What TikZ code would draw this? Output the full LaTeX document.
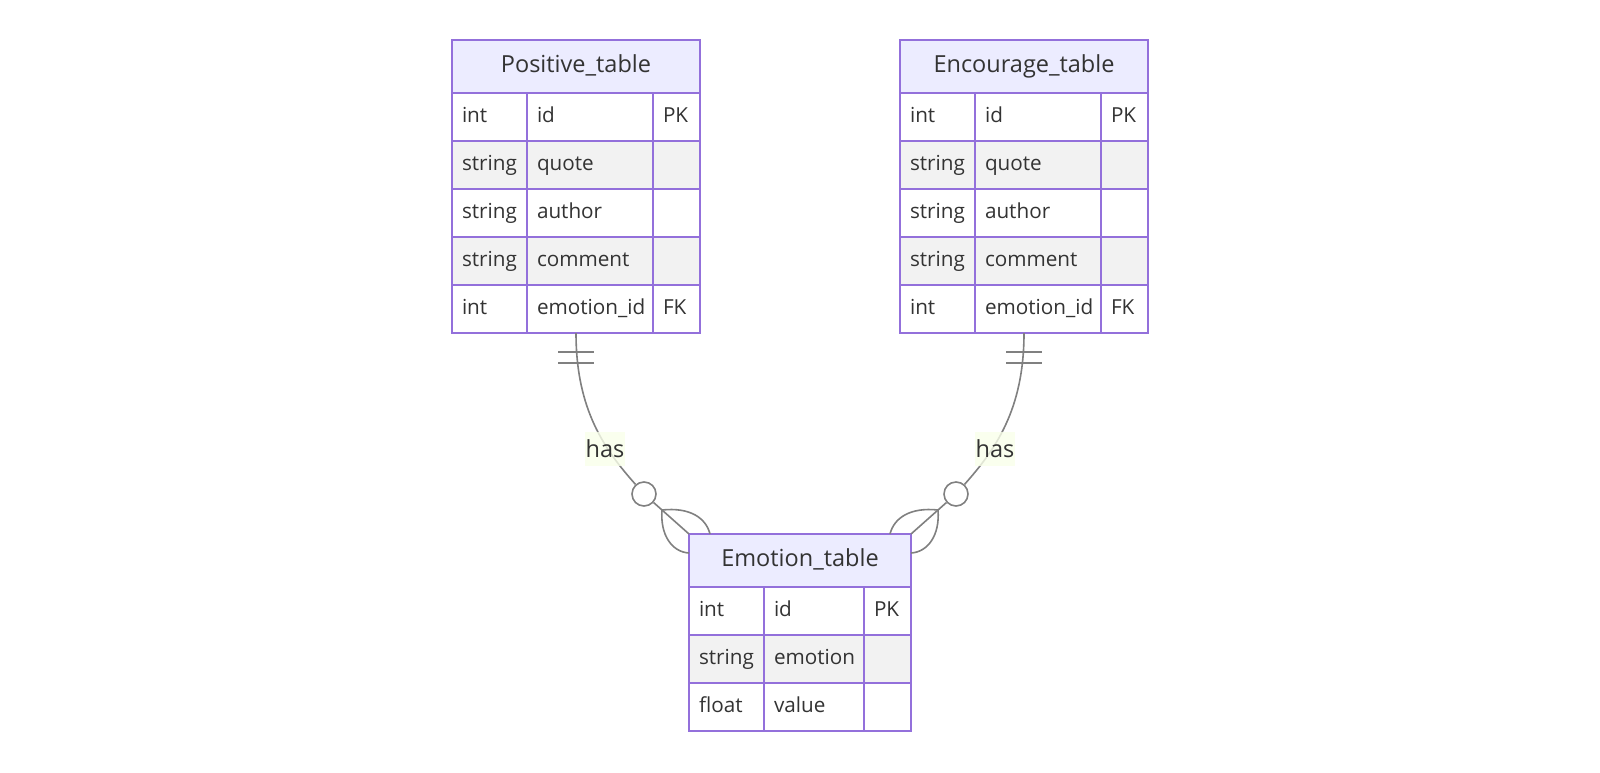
\documentclass[tikz,border=0pt]{standalone}
\usepackage{fontspec}
\setmainfont{Open Sans}
\definecolor{erborder}{HTML}{9370DB}
\definecolor{erhead}{HTML}{ECECFF}
\definecolor{errow}{HTML}{F2F2F2}
\definecolor{ertext}{HTML}{333333}
\definecolor{erline}{HTML}{808080}
\definecolor{erlabel}{HTML}{F9FFEA}
\tikzset{
  ent head/.style={draw=erborder, fill=erhead, line width=2pt, outer sep=0pt,
    minimum width=#1, minimum height=53pt, anchor=north west, text=ertext,
    text height=17pt, text depth=5pt, font=\fontsize{23.5pt}{27pt}\selectfont},
  ent cell/.style={draw=erborder, line width=2pt, outer sep=0pt, inner ysep=0pt,
    inner xsep=10pt, text width=#1, align=left, minimum height=48pt,
    anchor=north west, text=ertext, text height=15.5pt, text depth=4pt,
    font=\fontsize{20.7pt}{24pt}\selectfont},
  rel/.style={draw=erline, line width=1.6pt},
  zero/.style={circle, draw=erline, fill=white, line width=1.6pt,
    minimum size=24pt, inner sep=0pt},
  rel label/.style={fill=erlabel, fill opacity=0.8, text opacity=1, text=ertext,
    inner xsep=1pt, minimum height=34pt, font=\fontsize{23.5pt}{27pt}\selectfont}
}
\begin{document}
\begin{tikzpicture}[x=1pt, y=-1pt]
  \fill[white] (0,0) rectangle (1600,772);
  \useasboundingbox (0,0) rectangle (1600,772);

  % the two quote tables
  \foreach \tb/\xx/\ttl in {pos/452/Positive\_table, enc/900/Encourage\_table} {
    \node[ent head=248pt] (\tb-head) at (\xx,40) {\ttl};
    \foreach \ty/\nm/\k/\f [count=\i] in {int/id/PK/white, string/quote/{}/errow,
        string/author/{}/white, string/comment/{}/errow, int/emotion\_id/FK/white} {
      \pgfmathsetmacro\yy{93+48*(\i-1)}
      \node[ent cell=55pt, fill=\f] (\tb-\i-t) at (\xx,\yy) {\ty};
      \node[ent cell=106pt, fill=\f] (\tb-\i-n) at (\tb-\i-t.north east) {\nm};
      \node[ent cell=27pt, fill=\f] (\tb-\i-k) at (\tb-\i-n.north east) {\k};
    }
    \coordinate (\tb-foot) at (\tb-head.south |- \tb-5-k.south);
  }

  % emotion table
  \node[ent head=222pt] (emo-head) at (689,534) {Emotion\_table};
  \foreach \ty/\nm/\k/\f [count=\i] in {int/id/PK/white, string/emotion/{}/errow,
      float/value/{}/white} {
    \pgfmathsetmacro\yy{587+48*(\i-1)}
    \node[ent cell=55pt, fill=\f] (emo-\i-t) at (689,\yy) {\ty};
    \node[ent cell=80pt, fill=\f] (emo-\i-n) at (emo-\i-t.north east) {\nm};
    \node[ent cell=27pt, fill=\f] (emo-\i-k) at (emo-\i-n.north east) {\k};
  }

  % relations
  \node[zero] (pos-o) at (644,494) {};
  \node[zero] (enc-o) at (956,494) {};
  \coordinate (pos-fork) at (662,510);
  \coordinate (enc-fork) at (938,510);

  \draw[rel] (pos-foot) .. controls (576,410) and (605,450) .. (pos-o) -- (emo-head.north west);
  \draw[rel] (enc-foot) .. controls (1024,410) and (995,450) .. (enc-o) -- (emo-head.north east);

  % exactly one
  \draw[rel] ([shift={(-18pt,-19pt)}]pos-foot) -- ++(36pt,0pt);
  \draw[rel] ([shift={(-18pt,-30pt)}]pos-foot) -- ++(36pt,0pt);
  \draw[rel] ([shift={(-18pt,-19pt)}]enc-foot) -- ++(36pt,0pt);
  \draw[rel] ([shift={(-18pt,-30pt)}]enc-foot) -- ++(36pt,0pt);

  % many
  \draw[rel] (pos-fork) .. controls (690,507) and (706,518) .. ([xshift=21pt]emo-head.north west);
  \draw[rel] (pos-fork) .. controls (660,535) and (672,552) .. ([yshift=-19pt]emo-head.north west);
  \draw[rel] (enc-fork) .. controls (910,507) and (894,518) .. ([xshift=-21pt]emo-head.north east);
  \draw[rel] (enc-fork) .. controls (940,535) and (928,552) .. ([yshift=-19pt]emo-head.north east);

  \node[rel label] (pos-has) at (605,449) {has};
  \node[rel label] (enc-has) at (995,449) {has};
\end{tikzpicture}
\end{document}
